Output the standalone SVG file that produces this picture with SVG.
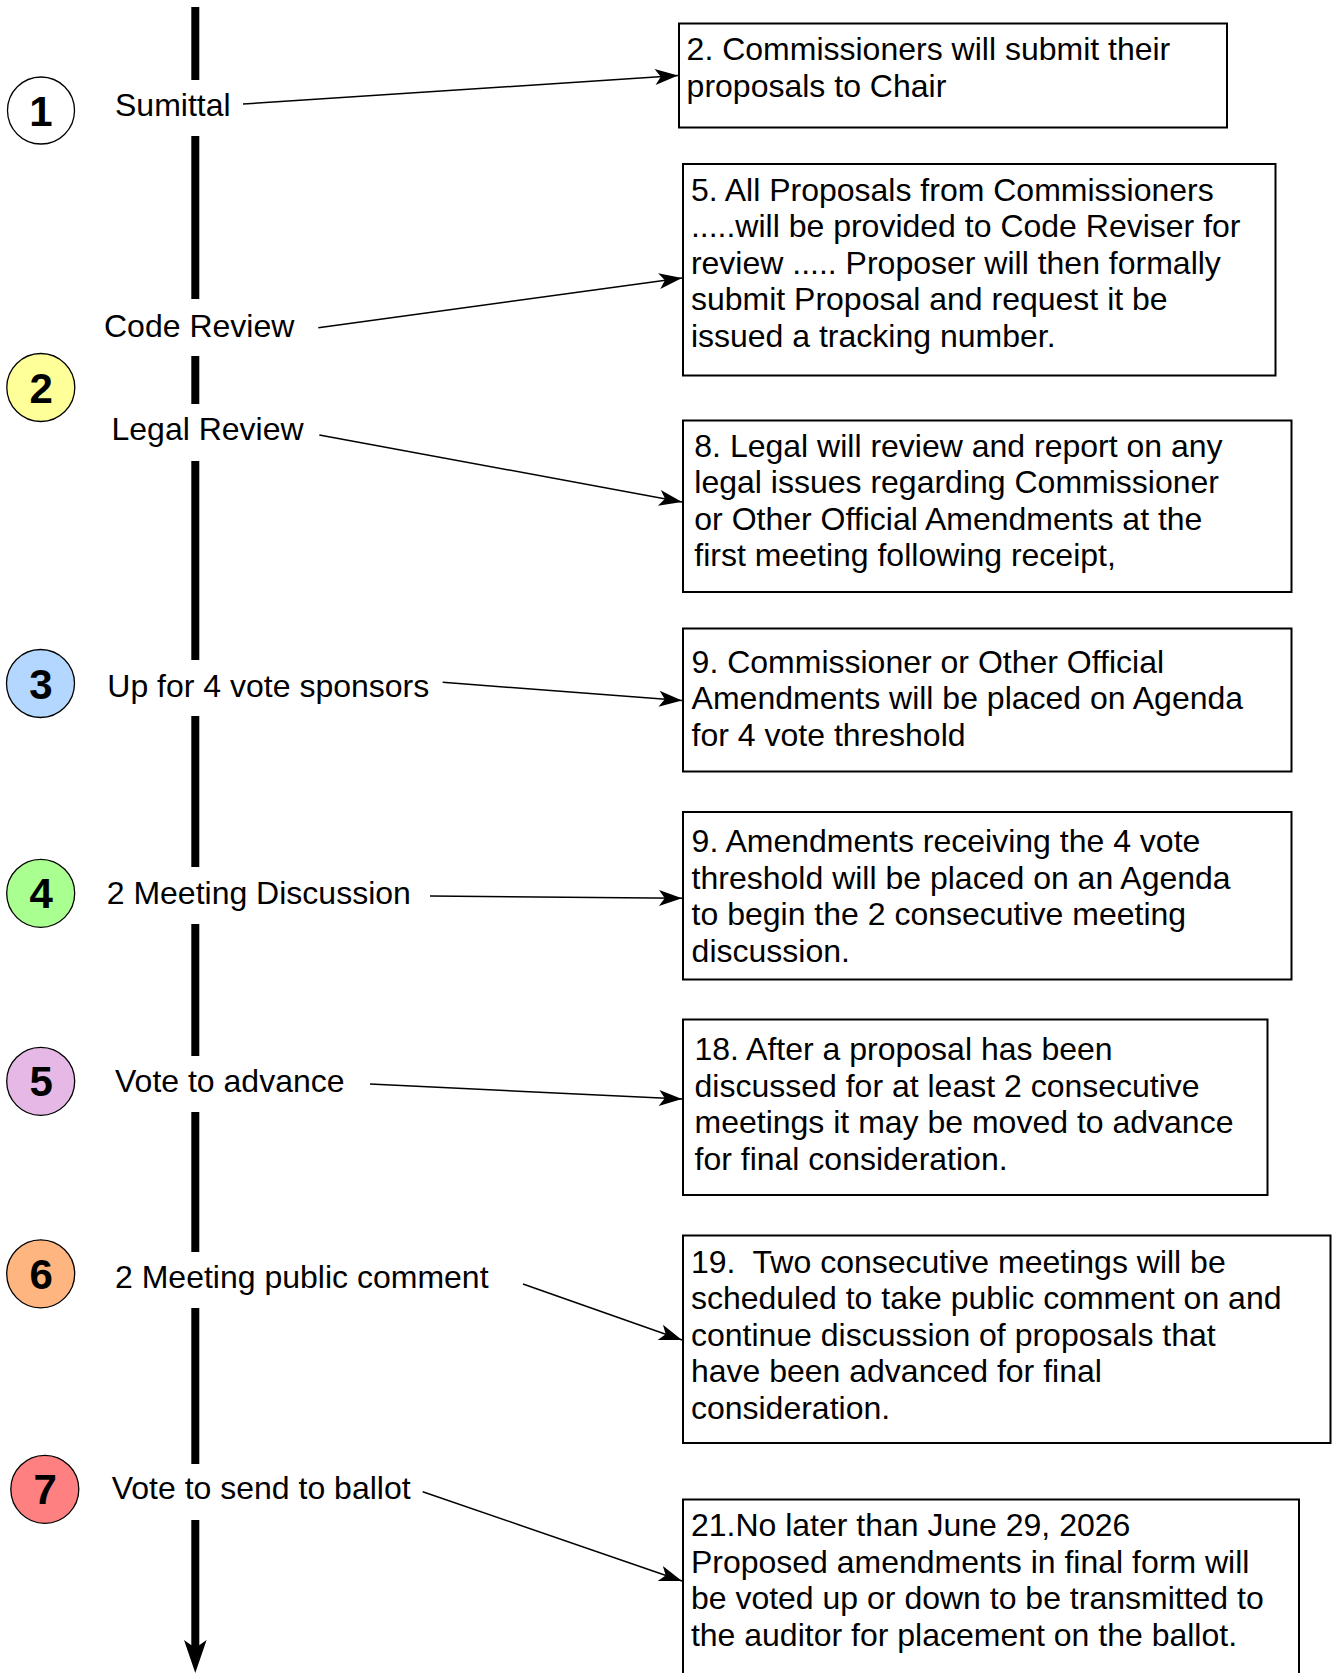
<svg xmlns="http://www.w3.org/2000/svg" width="1332" height="1673" viewBox="0 0 1332 1673">
<style>
  .lbl { font-family: "Liberation Sans", Arial, sans-serif; font-size: 32px; fill: #000; }
  .txt { font-family: "Liberation Sans", Arial, sans-serif; font-size: 32px; fill: #000; white-space: pre; }
  .num { font-family: "Liberation Sans", Arial, sans-serif; font-size: 42px; font-weight: bold; fill: #000; text-anchor: middle; }
  .circ { stroke: #000; stroke-width: 1.3; }
  .box { fill: #fff; stroke: #000; stroke-width: 2; }
  .spine { stroke: #000; stroke-width: 8; fill: none; }
  .conn { stroke: #000; stroke-width: 1.5; fill: none; marker-end: url(#arr); }
</style>
<defs>
  <marker id="arr" markerUnits="userSpaceOnUse" markerWidth="24" markerHeight="16" refX="23" refY="8" orient="auto" overflow="visible">
    <path d="M0,0 L23,8 L0,16 L5.75,8 Z" fill="#000"/>
  </marker>
</defs>
<rect width="1332" height="1673" fill="#fff"/>

<g id="timeline">
  <line class="spine" x1="195.3" y1="7" x2="195.3" y2="80"/>
  <line class="spine" x1="195.3" y1="136" x2="195.3" y2="299"/>
  <line class="spine" x1="195.3" y1="356" x2="195.3" y2="404"/>
  <line class="spine" x1="195.3" y1="461" x2="195.3" y2="660"/>
  <line class="spine" x1="195.3" y1="716" x2="195.3" y2="867"/>
  <line class="spine" x1="195.3" y1="924" x2="195.3" y2="1056"/>
  <line class="spine" x1="195.3" y1="1112" x2="195.3" y2="1252"/>
  <line class="spine" x1="195.3" y1="1308" x2="195.3" y2="1464"/>
  <line class="spine" x1="195.3" y1="1520" x2="195.3" y2="1648"/>
  <path d="M195.3,1673 L184,1640 L195.3,1648 L206.6,1640 Z" fill="#000"/>
</g>

<g id="step1">
  <circle class="circ" cx="41" cy="110.5" r="33.5" fill="#fff"/>
  <text class="num" x="41" y="125.5">1</text>
  <text class="lbl" x="115" y="115.5">Sumittal</text>
</g>
<g id="step-code-review">
  <text class="lbl" x="104" y="336.7">Code Review</text>
</g>
<g id="step2">
  <circle class="circ" cx="40.8" cy="387.5" r="34" fill="#FFFF99"/>
  <text class="num" x="41.3" y="402.5">2</text>
  <text class="lbl" x="111.5" y="440">Legal Review</text>
</g>
<g id="step3">
  <circle class="circ" cx="40.5" cy="683.5" r="34" fill="#B3D7FF"/>
  <text class="num" x="41" y="698.5">3</text>
  <text class="lbl" x="107.3" y="696.7">Up for 4 vote sponsors</text>
</g>
<g id="step4">
  <circle class="circ" cx="40.7" cy="893.3" r="34" fill="#A9FF8F"/>
  <text class="num" x="41.2" y="908.3">4</text>
  <text class="lbl" x="106.7" y="904.3">2 Meeting Discussion</text>
</g>
<g id="step5">
  <circle class="circ" cx="40.7" cy="1081.3" r="34" fill="#E5B8E5"/>
  <text class="num" x="41.2" y="1096.3">5</text>
  <text class="lbl" x="115" y="1091.7">Vote to advance</text>
</g>
<g id="step6">
  <circle class="circ" cx="40.7" cy="1273.8" r="34" fill="#FFB580"/>
  <text class="num" x="41.2" y="1288.8">6</text>
  <text class="lbl" x="115" y="1288.3">2 Meeting public comment</text>
</g>
<g id="step7">
  <circle class="circ" cx="44.8" cy="1489.3" r="34" fill="#FF8080"/>
  <text class="num" x="45.3" y="1504.3">7</text>
  <text class="lbl" x="111.7" y="1499.3">Vote to send to ballot</text>
</g>

<g id="box2">
  <rect class="box" x="679" y="23.5" width="548" height="104"/>
  <text class="txt" x="686.6" y="60">2. Commissioners will submit their</text>
  <text class="txt" x="686.6" y="96.5">proposals to Chair</text>
</g>
<g id="box5">
  <rect class="box" x="683" y="164" width="592.5" height="211.5"/>
  <text class="txt" x="690.9" y="200.5">5. All Proposals from Commissioners</text>
  <text class="txt" x="690.9" y="237">.....will be provided to Code Reviser for</text>
  <text class="txt" x="690.9" y="273.5">review ..... Proposer will then formally</text>
  <text class="txt" x="690.9" y="310">submit Proposal and request it be</text>
  <text class="txt" x="690.9" y="346.5">issued a tracking number.</text>
</g>
<g id="box8">
  <rect class="box" x="683" y="420.5" width="608.5" height="171.5"/>
  <text class="txt" x="694.3" y="456.5">8. Legal will review and report on any</text>
  <text class="txt" x="694.3" y="493">legal issues regarding Commissioner</text>
  <text class="txt" x="694.3" y="529.5">or Other Official Amendments at the</text>
  <text class="txt" x="694.3" y="566">first meeting following receipt,</text>
</g>
<g id="box9a">
  <rect class="box" x="683" y="628.5" width="608.5" height="143"/>
  <text class="txt" x="691.6" y="672.5">9. Commissioner or Other Official</text>
  <text class="txt" x="691.6" y="709">Amendments will be placed on Agenda</text>
  <text class="txt" x="691.6" y="745.5">for 4 vote threshold</text>
</g>
<g id="box9b">
  <rect class="box" x="683" y="812" width="608.5" height="167.5"/>
  <text class="txt" x="691.6" y="852">9. Amendments receiving the 4 vote</text>
  <text class="txt" x="691.6" y="888.5">threshold will be placed on an Agenda</text>
  <text class="txt" x="691.6" y="925">to begin the 2 consecutive meeting</text>
  <text class="txt" x="691.6" y="961.5">discussion.</text>
</g>
<g id="box18">
  <rect class="box" x="683" y="1019.5" width="584.5" height="175.5"/>
  <text class="txt" x="694.5" y="1060">18. After a proposal has been</text>
  <text class="txt" x="694.5" y="1096.5">discussed for at least 2 consecutive</text>
  <text class="txt" x="694.5" y="1133">meetings it may be moved to advance</text>
  <text class="txt" x="694.5" y="1169.5">for final consideration.</text>
</g>
<g id="box19">
  <rect class="box" x="683" y="1235.5" width="647.5" height="207.5"/>
  <text class="txt" x="690.9" y="1272.5">19.  Two consecutive meetings will be</text>
  <text class="txt" x="690.9" y="1309">scheduled to take public comment on and</text>
  <text class="txt" x="690.9" y="1345.5">continue discussion of proposals that</text>
  <text class="txt" x="690.9" y="1382">have been advanced for final</text>
  <text class="txt" x="690.9" y="1418.5">consideration.</text>
</g>
<g id="box21">
  <rect class="box" x="683" y="1499.5" width="616" height="200"/>
  <text class="txt" x="690.9" y="1536">21.No later than June 29, 2026</text>
  <text class="txt" x="690.9" y="1572.5">Proposed amendments in final form will</text>
  <text class="txt" x="690.9" y="1609">be voted up or down to be transmitted to</text>
  <text class="txt" x="690.9" y="1645.5">the auditor for placement on the ballot.</text>
</g>

<g id="connectors">
  <line class="conn" x1="243" y1="104" x2="678" y2="75.5"/>
  <line class="conn" x1="318.3" y1="327.7" x2="682" y2="278"/>
  <line class="conn" x1="319.3" y1="435" x2="682" y2="502"/>
  <line class="conn" x1="442.7" y1="682.3" x2="682" y2="700.5"/>
  <line class="conn" x1="430" y1="896" x2="682" y2="898.3"/>
  <line class="conn" x1="370" y1="1084" x2="682" y2="1099"/>
  <line class="conn" x1="523" y1="1284" x2="682" y2="1340"/>
  <line class="conn" x1="422.7" y1="1491.7" x2="682" y2="1581"/>
</g>
</svg>
